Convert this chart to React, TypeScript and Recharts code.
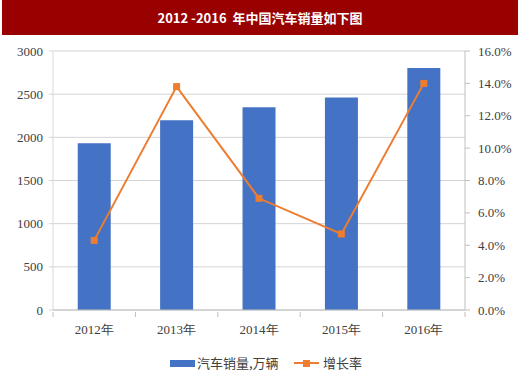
import React from 'react';
import {
  ComposedChart,
  Bar,
  Line,
  XAxis,
  YAxis,
  CartesianGrid
} from 'recharts';

const years = ['2012年', '2013年', '2014年', '2015年', '2016年'];
const sales = [1931, 2198, 2349, 2460, 2803];
const growth = [4.3, 13.8, 6.9, 4.7, 14.0];
const leftTicks = [0, 500, 1000, 1500, 2000, 2500, 3000];
const rightTicks = [0, 2, 4, 6, 8, 10, 12, 14, 16];

const salesName = '汽车销量,万辆';
const growthName = '增长率';

const data = years.map((year, i) => ({
  year,
  sales: sales[i],
  growth: growth[i]
}));

const serif = '"Liberation Serif", "Times New Roman", serif';
const sans = '"Noto Sans CJK SC", "Noto Sans", sans-serif';

function SquareDot(props: any) {
  const { cx, cy } = props;
  if (cx == null || cy == null) return null;
  return <rect x={cx - 3.5} y={cy - 3.5} width={7} height={7} fill="#ED7D31" />;
}

function YearTick(props: any) {
  const { x, y, payload, index } = props;
  const half = 41.2;
  return (
    <g>
      <line x1={x - half} x2={x - half} y1={y - 6} y2={y - 1} stroke="#bfbfbf" />
      {index === years.length - 1 && (
        <line x1={x + half} x2={x + half} y1={y - 6} y2={y - 1} stroke="#bfbfbf" />
      )}
      <text x={x} y={y + 16} textAnchor="middle" fill="#404040" fontSize={13} fontFamily={serif}>
        {payload.value}
      </text>
    </g>
  );
}

export default function App() {
  return (
    <div style={{ position: 'absolute', left: 0, top: 0, width: 520, height: 382, background: '#fff' }}>
      <div
        style={{
          position: 'absolute',
          left: 2,
          top: 0,
          width: 516,
          height: 35,
          background: '#990000',
          color: '#fff',
          fontFamily: sans,
          fontWeight: 'bold',
          fontSize: 13,
          lineHeight: '35px',
          textAlign: 'center'
        }}
      >
        2012 -2016&nbsp;&nbsp;年中国汽车销量如下图
      </div>

      <div style={{ position: 'absolute', left: 0, top: 0 }}>
        <ComposedChart
          width={520}
          height={340}
          data={data}
          margin={{ top: 51, right: 0, bottom: 0, left: 8 }}
          barCategoryGap="30%"
        >
          <CartesianGrid vertical={false} stroke="#d4d4d4" yAxisId="left" />
          <XAxis
            dataKey="year"
            height={30}
            tickLine={false}
            axisLine={{ stroke: '#bfbfbf' }}
            tick={<YearTick />}
            interval={0}
          />
          <YAxis
            yAxisId="left"
            width={45}
            domain={[0, 3000]}
            ticks={leftTicks}
            tickSize={4}
            tickMargin={6}
            axisLine={{ stroke: '#d9d9d9' }}
            tickLine={{ stroke: '#d4d4d4' }}
            tick={{ fill: '#404040', fontSize: 13, fontFamily: serif }}
            interval={0}
          />
          <YAxis
            yAxisId="right"
            orientation="right"
            width={55}
            domain={[0, 16]}
            ticks={rightTicks}
            tickFormatter={(v: number) => v.toFixed(1) + '%'}
            tickSize={5}
            tickMargin={8}
            axisLine={{ stroke: '#bfbfbf' }}
            tickLine={{ stroke: '#bfbfbf' }}
            tick={{ fill: '#404040', fontSize: 13, fontFamily: serif, textAnchor: 'start' }}
            interval={0}
          />
          <Bar
            yAxisId="left"
            dataKey="sales"
            name={salesName}
            fill="#4472C4"
            isAnimationActive={false}
          />
          <Line
            yAxisId="right"
            dataKey="growth"
            name={growthName}
            type="linear"
            stroke="#ED7D31"
            strokeWidth={2}
            dot={<SquareDot />}
            activeDot={false}
            isAnimationActive={false}
          />
        </ComposedChart>
      </div>

      <div
        style={{
          position: 'absolute',
          left: 0,
          top: 354,
          width: 520,
          height: 18,
          fontFamily: sans,
          fontSize: 13,
          color: '#404040'
        }}
      >
        <div style={{ position: 'absolute', left: 170, top: 6, width: 25, height: 7, background: '#4472C4' }} />
        <span style={{ position: 'absolute', left: 197, top: 0, lineHeight: '18px' }}>{salesName}</span>
        <div style={{ position: 'absolute', left: 294, top: 8, width: 25, height: 2, background: '#ED7D31' }} />
        <div style={{ position: 'absolute', left: 303, top: 5.5, width: 7, height: 7, background: '#ED7D31' }} />
        <span style={{ position: 'absolute', left: 323, top: 0, lineHeight: '18px' }}>{growthName}</span>
      </div>
    </div>
  );
}
